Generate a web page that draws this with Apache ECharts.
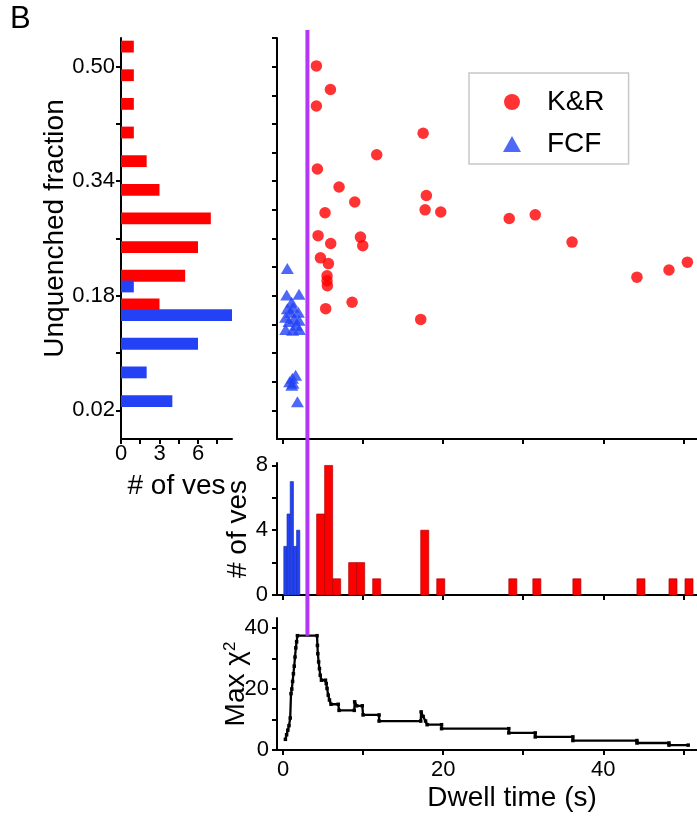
<!DOCTYPE html>
<html>
<head>
<meta charset="utf-8">
<script src="https://cdn.jsdelivr.net/npm/echarts@6/dist/echarts.min.js"></script>
<style>
  html, body { margin: 0; padding: 0; background: #fff; }
  #chart { width: 697px; height: 820px; }
</style>
</head>
<body>
<div id="chart"></div>
<script>
// ---- K&R events: dwell time (s) and unquenched fraction ----
const krDwell    = [4.17, 5.92, 4.17, 17.5, 11.7, 4.29, 7.0, 17.9, 8.96, 5.25, 17.75, 19.7, 28.25, 31.5, 4.38,
                    5.96, 9.67, 9.96, 36.1, 4.67, 5.67, 5.5, 5.5, 5.54, 44.2, 48.2, 50.5, 8.63, 5.33, 17.2];
const krFraction = [0.501, 0.468, 0.445, 0.407, 0.377, 0.357, 0.332, 0.320, 0.311, 0.296, 0.300, 0.297, 0.288, 0.293, 0.264,
                    0.253, 0.262, 0.250, 0.255, 0.233, 0.225, 0.208, 0.201, 0.194, 0.206, 0.216, 0.227, 0.171, 0.162, 0.147];

// ---- FCF events ----
const fcfDwell    = [0.54, 2.0, 0.46, 1.08, 1.25, 0.54, 0.96, 1.92, 0.33, 1.38, 2.0, 0.75, 1.67, 0.33, 2.05, 1.2,
                     1.58, 1.17, 0.83, 1.25, 1.1, 1.8];
const fcfFraction = [0.218, 0.182, 0.181, 0.171, 0.164, 0.162, 0.157, 0.157, 0.150, 0.148, 0.146, 0.144, 0.139, 0.133, 0.133, 0.132,
                     0.069, 0.065, 0.060, 0.058, 0.055, 0.032];

// ---- Dwell-time histograms (bin start in s, counts) ----
const krDwellBinStart  = [4.2, 5.2, 6.2, 8.2, 9.2, 11.2, 17.2, 19.2, 28.2, 31.2, 36.2, 44.2, 48.2, 50.2];
const krDwellCounts    = [5, 8, 1, 2, 2, 1, 4, 1, 1, 1, 1, 1, 1, 1];
const krDwellBinWidth  = 1.0;
const fcfDwellBinStart = [0.1, 0.5, 0.9, 1.3, 1.7];
const fcfDwellCounts   = [3, 5, 7, 3, 4];
const fcfDwellBinWidth = 0.4;

// ---- Unquenched-fraction histograms (bin centre, counts) ----
const krFracBinCenter  = [0.528, 0.488, 0.448, 0.408, 0.368, 0.328, 0.288, 0.248, 0.208, 0.168];
const krFracCounts     = [1, 1, 1, 1, 2, 3, 7, 6, 5, 3];
const fcfFracBinCenter = [0.193, 0.153, 0.113, 0.073, 0.033];
const fcfFracCounts    = [1, 9, 6, 2, 4];
const fracBarThickness = 0.0165;

// ---- Max chi-square as a function of the dwell-time threshold ----
const chiThreshold = [0.3, 0.45, 0.6, 0.75, 0.9, 1.0, 1.1, 1.2, 1.3, 1.4, 1.5, 1.6, 1.7, 1.8, 4.25,
                      4.3, 4.35, 4.45, 4.55, 4.65, 4.8, 5.3, 5.4, 5.5, 5.65, 5.8, 6.0, 6.9, 7.0, 8.9,
                      8.95, 9.2, 9.9, 10.0, 12.0, 12.0, 17.2, 17.25, 17.5, 17.8, 18.0, 19.8, 19.8, 28.2,
                      28.2, 31.5, 31.5, 36.2, 36.2, 44.2, 44.2, 48.2, 48.2, 50.6];
const chiValue     = [3.5, 5.0, 6.5, 8.0, 10.5, 18.5, 20.0, 22.5, 25.0, 27.5, 30.5, 33.5, 35.5, 37.5, 37.5,
                      34.3, 31.6, 28.9, 26.7, 24.5, 22.9, 22.9, 21.8, 20.2, 18.0, 16.4, 15.0, 15.0, 13.0, 13.0,
                      15.8, 14.5, 14.5, 11.5, 11.5, 9.5, 9.5, 12.5, 11.0, 9.5, 8.3, 8.3, 7.0, 7.0,
                      5.6, 5.6, 4.3, 4.3, 3.1, 3.1, 2.3, 2.3, 1.6, 1.6];
const bestThreshold = 3.05;
const chiAtBest = 37.5;

// ---- Axis ranges and ticks ----
const fracRange   = [-0.02, 0.54];
const countRange  = [0, 8.65];
const dwellRange  = [-0.75, 51.7];
const histRange   = [0, 8.15];
const chiRange    = [0, 43.3];
const fracLabels  = [0.02, 0.18, 0.34, 0.50];
const fracTicksL  = [0.02, 0.10, 0.18, 0.26, 0.34, 0.42, 0.50];
const fracTicksR  = [0.02, 0.06, 0.10, 0.14, 0.18, 0.22, 0.26, 0.30, 0.34, 0.38, 0.42, 0.46, 0.50, 0.54];
const countTicks  = [0, 1.5, 3, 4.5, 6, 7.5];
const countLabels = [0, 3, 6];
const dwellTicks  = [0, 10, 20, 30, 40, 50];
const dwellLabels = [0, 20, 40];
const histTicks   = [0, 2, 4, 6, 8];
const histLabels  = [0, 4, 8];
const chiTicks    = [0, 10, 20, 30, 40];
const chiLabels   = [0, 20, 40];

const RED = '#ff0000';
const BLUE = '#2342f5';
const PURPLE = '#b436f6';
const FONT = '"Liberation Sans", Arial, Helvetica, sans-serif';

const chart = echarts.init(document.getElementById('chart'), null, { renderer: 'canvas' });

function axisBase(extra) {
  return Object.assign({
    type: 'value',
    nameMoveOverlap: false,
    axisLine: { show: true, onZero: false, lineStyle: { color: '#000', width: 2 } },
    splitLine: { show: false },
    axisLabel: { show: false, color: '#000', fontSize: 22, fontFamily: FONT },
    nameTextStyle: { color: '#000', fontSize: 28, fontFamily: FONT }
  }, extra);
}
function ticks(values, len) {
  return { show: true, inside: false, length: len || 5, customValues: values, lineStyle: { color: '#000', width: 2 } };
}

// vertical histogram bins on a dwell-time axis
function vBins(width, fill, stroke) {
  return function (params, api) {
    const x0 = api.value(0), n = api.value(1);
    const a = api.coord([x0, 0]);
    const b = api.coord([x0 + width, n]);
    return {
      type: 'rect',
      shape: { x: a[0], y: b[1], width: b[0] - a[0], height: a[1] - b[1] },
      style: { fill: fill, stroke: stroke, lineWidth: 0.7 }
    };
  };
}
// horizontal histogram bins on the fraction axis (clipped to the panel)
function hBins(fill) {
  return function (params, api) {
    const n = api.value(0), c = api.value(1);
    const a = api.coord([0, c + fracBarThickness / 2]);
    const b = api.coord([n, c - fracBarThickness / 2]);
    const cs = params.coordSys;
    const right = Math.min(b[0], cs.x + cs.width);
    return {
      type: 'rect',
      shape: { x: a[0], y: a[1], width: right - a[0], height: b[1] - a[1] },
      style: { fill: fill }
    };
  };
}

const option = {
  animation: false,
  backgroundColor: '#fff',
  title: {
    text: 'B', left: 10, top: 4, padding: 0,
    textStyle: { fontSize: 31, fontWeight: 'normal', color: '#000', fontFamily: FONT }
  },
  legend: {
    orient: 'vertical',
    left: 469, top: 73,
    padding: [15, 24, 6, 34],
    itemWidth: 18, itemHeight: 16, itemGap: 14,
    symbolKeepAspect: true,
    borderColor: '#c8c8c8', borderWidth: 1.5,
    textStyle: { fontSize: 28, color: '#000', fontFamily: FONT, lineHeight: 28, padding: [0, 0, 0, 21] },
    data: [{ name: 'K&R', icon: 'circle' }, { name: 'FCF', icon: 'triangle' }]
  },
  grid: [
    { left: 121, top: 38, width: 111, height: 401 },   // fraction histogram
    { left: 277, top: 38, right: 0, height: 401 },     // scatter
    { left: 277, top: 463, right: 0, height: 132 },    // dwell histogram
    { left: 277, top: 618, right: 0, height: 132 }     // max chi-square
  ],
  xAxis: [
    axisBase({
      gridIndex: 0, min: countRange[0], max: countRange[1],
      axisTick: ticks(countTicks),
      axisLabel: { show: true, customValues: countLabels, margin: 4, color: '#000', fontSize: 22, fontFamily: FONT },
      name: '# of ves', nameLocation: 'middle', nameGap: 33
    }),
    axisBase({ gridIndex: 1, min: dwellRange[0], max: dwellRange[1], axisTick: ticks(dwellTicks) }),
    axisBase({ gridIndex: 2, min: dwellRange[0], max: dwellRange[1], axisTick: ticks(dwellTicks) }),
    axisBase({
      gridIndex: 3, min: dwellRange[0], max: dwellRange[1],
      axisTick: ticks(dwellTicks),
      axisLabel: { show: true, customValues: dwellLabels, margin: 9, color: '#000', fontSize: 22, fontFamily: FONT },
      name: 'Dwell time (s)', nameLocation: 'middle', nameGap: 34,
      nameTextStyle: { color: '#000', fontSize: 28, fontFamily: FONT, padding: [0, 0, 0, 50] }
    })
  ],
  yAxis: [
    axisBase({
      gridIndex: 0, min: fracRange[0], max: fracRange[1],
      axisTick: ticks(fracTicksL),
      axisLabel: { show: true, customValues: fracLabels, margin: 6, color: '#000', fontSize: 22, fontFamily: FONT,
                   formatter: v => v.toFixed(2) },
      name: 'Unquenched fraction', nameLocation: 'middle', nameGap: 52, nameRotate: 90,
      nameTextStyle: { color: '#000', fontSize: 28, fontFamily: FONT, padding: [0, 0, 0, 20] }
    }),
    axisBase({ gridIndex: 1, min: fracRange[0], max: fracRange[1], axisTick: ticks(fracTicksR) }),
    axisBase({
      gridIndex: 2, min: histRange[0], max: histRange[1],
      axisTick: ticks(histTicks),
      axisLabel: { show: true, customValues: histLabels, margin: 9, color: '#000', fontSize: 22, fontFamily: FONT },
      name: '# of ves', nameLocation: 'middle', nameGap: 25, nameRotate: 90
    }),
    axisBase({
      gridIndex: 3, min: chiRange[0], max: chiRange[1],
      axisTick: ticks(chiTicks),
      axisLabel: { show: true, customValues: chiLabels, margin: 8, color: '#000', fontSize: 22, fontFamily: FONT },
      name: 'Max χ{sup|2}', nameLocation: 'middle', nameGap: 27, nameRotate: 90,
      nameTextStyle: {
        color: '#000', fontSize: 28, fontFamily: FONT,
        rich: { sup: { fontSize: 17, fontFamily: FONT, color: '#000', verticalAlign: 'top', lineHeight: 28 } }
      }
    })
  ],
  series: [
    {
      name: 'K&R fraction histogram', type: 'custom', xAxisIndex: 0, yAxisIndex: 0,
      renderItem: hBins(RED), encode: { x: 0, y: 1 },
      data: krFracCounts.map((n, i) => [n, krFracBinCenter[i]])
    },
    {
      name: 'FCF fraction histogram', type: 'custom', xAxisIndex: 0, yAxisIndex: 0,
      renderItem: hBins(BLUE), encode: { x: 0, y: 1 },
      data: fcfFracCounts.map((n, i) => [n, fcfFracBinCenter[i]])
    },
    {
      name: 'K&R', type: 'scatter', xAxisIndex: 1, yAxisIndex: 1,
      symbol: 'circle', symbolSize: 11.5, itemStyle: { color: RED },
      data: krDwell.map((x, i) => [x, krFraction[i]])
    },
    {
      name: 'FCF', type: 'scatter', xAxisIndex: 1, yAxisIndex: 1,
      symbol: 'triangle', symbolSize: [13, 11], itemStyle: { color: BLUE },
      data: fcfDwell.map((x, i) => [x, fcfFraction[i]])
    },
    {
      name: 'FCF dwell histogram', type: 'custom', xAxisIndex: 2, yAxisIndex: 2,
      renderItem: vBins(fcfDwellBinWidth, BLUE, '#1a30b8'), encode: { x: 0, y: 1 },
      data: fcfDwellCounts.map((n, i) => [fcfDwellBinStart[i], n])
    },
    {
      name: 'K&R dwell histogram', type: 'custom', xAxisIndex: 2, yAxisIndex: 2,
      renderItem: vBins(krDwellBinWidth, RED, '#b00000'), encode: { x: 0, y: 1 },
      data: krDwellCounts.map((n, i) => [krDwellBinStart[i], n])
    },
    {
      name: 'Max chi-square', type: 'line', xAxisIndex: 3, yAxisIndex: 3,
      symbol: 'rect', symbolSize: 3.5, showAllSymbol: true,
      lineStyle: { color: '#000', width: 2.3 }, itemStyle: { color: '#000' },
      data: chiThreshold.map((x, i) => [x, chiValue[i]])
    }
  ]
};

chart.setOption(option);

// threshold marker: from the top of the scatter panel down to the chi-square maximum
const lineTop = chart.convertToPixel({ xAxisIndex: 1, yAxisIndex: 1 }, [bestThreshold, 0.551]);
const lineBottom = chart.convertToPixel({ xAxisIndex: 3, yAxisIndex: 3 }, [bestThreshold, chiAtBest]);
chart.setOption({
  graphic: [{
    type: 'line', z: 100,
    shape: { x1: lineTop[0], y1: lineTop[1], x2: lineBottom[0], y2: lineBottom[1] },
    style: { stroke: PURPLE, lineWidth: 4 }
  }]
});
</script>
</body>
</html>
